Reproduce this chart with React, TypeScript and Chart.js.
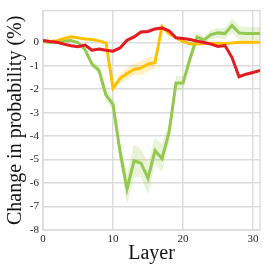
import React, { useEffect, useRef } from "react";
import { Chart, registerables } from "chart.js";

Chart.register(...registerables);

const layers = Array.from({ length: 32 }, (_, i) => i);

const greenVals = [0.03, 0.0, 0.0, 0.05, 0.07, -0.01, -0.31, -0.93, -1.2, -2.25, -2.65, -4.65, -6.25, -5.05, -5.15, -5.8, -4.62, -4.95, -3.85, -1.74, -1.74, -0.7, 0.22, 0.1, 0.33, 0.4, 0.37, 0.72, 0.4, 0.37, 0.37, 0.37];
const greenErr = [0.05, 0.05, 0.05, 0.05, 0.05, 0.05, 0.08, 0.12, 0.2, 0.25, 0.25, 0.4, 0.65, 0.7, 0.6, 0.7, 0.55, 0.6, 0.4, 0.3, 0.3, 0.25, 0.2, 0.15, 0.2, 0.2, 0.25, 0.3, 0.3, 0.28, 0.27, 0.27];

const yellowVals = [0.07, 0.03, 0.07, 0.16, 0.23, 0.19, 0.14, 0.12, 0.06, -0.03, -1.95, -1.55, -1.33, -1.16, -1.1, -0.93, -0.86, 0.67, 0.37, 0.19, 0.03, -0.06, -0.07, -0.05, -0.04, -0.04, -0.05, -0.03, 0.0, 0.0, 0.0, 0.0];
const yellowErr = [0.04, 0.04, 0.04, 0.04, 0.04, 0.04, 0.04, 0.04, 0.04, 0.04, 0.15, 0.2, 0.25, 0.25, 0.3, 0.3, 0.25, 0.15, 0.1, 0.04, 0.04, 0.04, 0.04, 0.04, 0.04, 0.04, 0.04, 0.04, 0.04, 0.04, 0.04, 0.04];

const redVals = [0.08, 0.03, 0.0, -0.08, -0.15, -0.19, -0.12, -0.34, -0.29, -0.34, -0.38, -0.24, 0.09, 0.23, 0.44, 0.46, 0.57, 0.61, 0.49, 0.19, 0.16, 0.12, 0.05, -0.01, -0.08, -0.18, -0.14, -0.65, -1.47, -1.36, -1.29, -1.2];
const redErr = [0.05, 0.05, 0.05, 0.05, 0.05, 0.05, 0.05, 0.05, 0.05, 0.05, 0.06, 0.06, 0.08, 0.08, 0.08, 0.08, 0.08, 0.08, 0.06, 0.05, 0.05, 0.05, 0.05, 0.05, 0.05, 0.05, 0.05, 0.06, 0.06, 0.06, 0.06, 0.06];

const xTicks = [0, 10, 20, 30];
const yTicks = [-8, -7, -6, -5, -4, -3, -2, -1, 0];

const RED = "rgb(227,27,35)";
const YELLOW = "rgb(255,192,0)";
const GREEN = "rgb(148,200,78)";

const GRID = "#dcdcdc";
const FONT = "'Liberation Serif', 'Times New Roman', serif";

function pts(vals: number[], err?: number[], sign = 0) {
  return layers.map((x, i) => ({ x, y: vals[i] + (err ? sign * err[i] : 0) }));
}

function lineDs(label: string, vals: number[], color: string) {
  return {
    label,
    data: pts(vals),
    borderColor: color,
    borderWidth: 3,
    pointRadius: 0,
    fill: false,
    tension: 0,
  };
}

function bandDs(label: string, vals: number[], err: number[], color: string, alpha: number) {
  const fillColor = color.replace("rgb(", "rgba(").replace(")", `,${alpha})`);
  return [
    {
      label: label + " upper",
      data: pts(vals, err, 1),
      borderWidth: 0,
      borderColor: "rgba(0,0,0,0)",
      pointRadius: 0,
      backgroundColor: fillColor,
      fill: "+1",
      tension: 0,
    },
    {
      label: label + " lower",
      data: pts(vals, err, -1),
      borderWidth: 0,
      borderColor: "rgba(0,0,0,0)",
      pointRadius: 0,
      fill: false,
      tension: 0,
    },
  ];
}

const framePlugin = {
  id: "frame",
  beforeDatasetsDraw(chart: any) {
    const { ctx, chartArea } = chart;
    ctx.save();
    ctx.strokeStyle = GRID;
    ctx.lineWidth = 1.5;
    ctx.strokeRect(chartArea.left, chartArea.top, chartArea.right - chartArea.left, chartArea.bottom - chartArea.top);
    ctx.restore();
  },
};

export default function App() {
  const ref = useRef<HTMLCanvasElement | null>(null);

  useEffect(() => {
    document.body.style.margin = "0";
    if (!ref.current) return;
    const chart = new Chart(ref.current, {
      type: "line",
      data: {
        datasets: [
          lineDs("red", redVals, RED),
          lineDs("yellow", yellowVals, YELLOW),
          lineDs("green", greenVals, GREEN),
          ...bandDs("red", redVals, redErr, RED, 0.2),
          ...bandDs("yellow", yellowVals, yellowErr, YELLOW, 0.22),
          ...bandDs("green", greenVals, greenErr, GREEN, 0.22),
        ] as any,
      },
      options: {
        animation: false,
        responsive: true,
        maintainAspectRatio: false,
        layout: { padding: { top: 1, right: 6, left: 0, bottom: 0 } },
        plugins: { legend: { display: false }, tooltip: { enabled: false } },
        scales: {
          x: {
            type: "linear",
            min: 0,
            max: 31,
            afterBuildTicks: (s: any) => {
              s.ticks = xTicks.map((v) => ({ value: v }));
            },
            afterFit: (s: any) => {
              s.height = 36;
            },
            grid: { color: GRID, lineWidth: 1.5, drawTicks: false },
            border: { display: false },
            ticks: { padding: 3, color: "#222", font: { family: FONT, size: 11 }, maxRotation: 0 },
            title: {
              display: true,
              text: "Layer",
              color: "#111",
              font: { family: FONT, size: 20, lineHeight: 1.2 },
              padding: { top: 0, bottom: 0 },
            },
          },
          y: {
            type: "linear",
            min: -8,
            max: 1.35,
            afterBuildTicks: (s: any) => {
              s.ticks = yTicks.map((v) => ({ value: v }));
            },
            afterFit: (s: any) => {
              s.width = 43;
            },
            grid: { color: GRID, lineWidth: 1.5, drawTicks: false },
            border: { display: false },
            ticks: { padding: 4, color: "#222", font: { family: FONT, size: 11 } },
            title: {
              display: true,
              text: "Change in probability (%)",
              color: "#111",
              font: { family: FONT, size: 20, lineHeight: 1.2 },
              padding: { top: 4, bottom: 0 },
            },
          },
        },
      } as any,
      plugins: [framePlugin],
    });
    return () => chart.destroy();
  }, []);

  return (
    <div style={{ width: 266, height: 266, position: "relative" }}>
      <canvas ref={ref} />
    </div>
  );
}
